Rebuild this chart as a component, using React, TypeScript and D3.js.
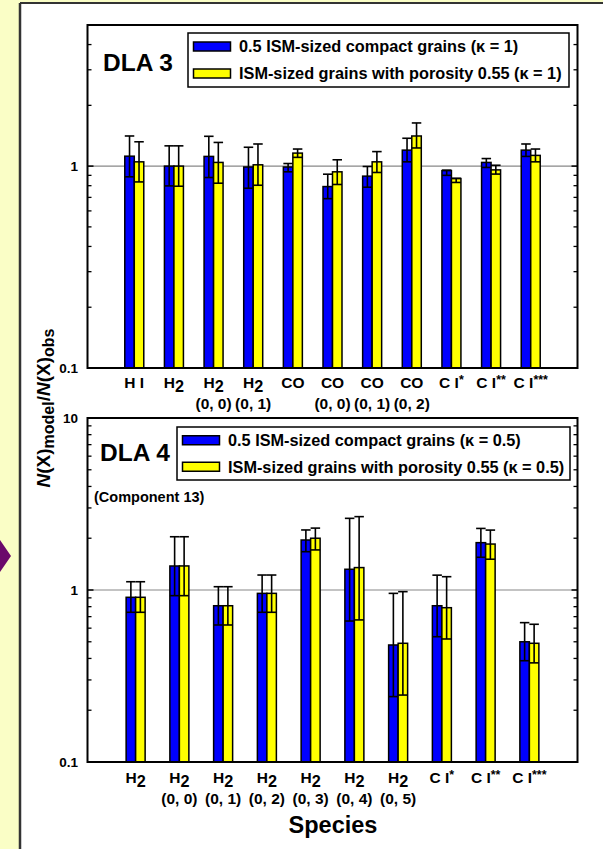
import React from "react";
import * as d3 from "d3";

// ---------- data ----------
const dla3Line1 = ["H I", "H_2", "H_2", "H_2", "CO", "CO", "CO", "CO", "C I^*", "C I^**", "C I^***"];
const dla3Line2 = ["", "", "(0, 0)", "(0, 1)", "", "(0, 0)", "(0, 1)", "(0, 2)", "", "", ""];
const dla3Compact = [1.12, 1.0, 1.117, 0.99, 0.99, 0.792, 0.892, 1.2, 0.95, 1.043, 1.2];
const dla3CompactHi = [1.41, 1.26, 1.405, 1.24, 1.03, 0.912, 0.996, 1.374, 0.955, 1.09, 1.287];
const dla3CompactLo = [0.885, 0.798, 0.878, 0.777, 0.937, 0.69, 0.786, 1.05, 0.9, 0.985, 1.117];
const dla3Porous = [1.05, 1.0, 1.043, 1.015, 1.16, 0.937, 1.05, 1.41, 0.868, 0.958, 1.13];
const dla3PorousHi = [1.32, 1.26, 1.31, 1.287, 1.215, 1.075, 1.18, 1.636, 0.87, 1.01, 1.215];
const dla3PorousLo = [0.835, 0.795, 0.823, 0.804, 1.105, 0.811, 0.93, 1.23, 0.83, 0.913, 1.05];

const dla4Line1 = ["H_2", "H_2", "H_2", "H_2", "H_2", "H_2", "H_2", "C I^*", "C I^**", "C I^***"];
const dla4Line2 = ["", "(0, 0)", "(0, 1)", "(0, 2)", "(0, 3)", "(0, 4)", "(0, 5)", "", "", ""];
const dla4Compact = [0.907, 1.379, 0.81, 0.956, 1.953, 1.32, 0.479, 0.81, 1.885, 0.5];
const dla4CompactHi = [1.117, 2.04, 1.045, 1.222, 2.234, 2.61, 0.956, 1.22, 2.28, 0.646];
const dla4CompactLo = [0.742, 0.927, 0.626, 0.742, 1.67, 0.66, 0.24, 0.535, 1.55, 0.388];
const dla4Porous = [0.907, 1.38, 0.81, 0.956, 2.0, 1.35, 0.49, 0.789, 1.85, 0.49];
const dla4PorousHi = [1.117, 2.04, 1.045, 1.222, 2.29, 2.67, 0.978, 1.195, 2.23, 0.632];
const dla4PorousLo = [0.742, 0.927, 0.626, 0.742, 1.71, 0.67, 0.245, 0.519, 1.51, 0.377];

const dla3Legend = ["0.5 ISM-sized compact grains (\u03BA = 1)", "ISM-sized grains with porosity 0.55 (\u03BA = 1)"];
const dla4Legend = ["0.5 ISM-sized compact grains (\u03BA = 0.5)", "ISM-sized grains with porosity 0.55 (\u03BA = 0.5)"];

const dla3Domain = [0.1, 5];
const dla4Domain = [0.1, 10];
const majorTickValues = [0.1, 1, 10];
const minorTickValues = [0.2, 0.3, 0.4, 0.5, 0.6, 0.7, 0.8, 0.9, 2, 3, 4, 5, 6, 7, 8, 9];

const FONT = "'Liberation Sans', Arial, Helvetica, sans-serif";
const BLUE = "#0000FF";
const YELLOW = "#FFFF00";

function RichLabel({ x, y, text, size }: { x: number; y: number; text: string; size: number }) {
  // "_" -> subscript next char; "^" -> superscript rest
  const parts: React.ReactNode[] = [];
  let i = 0;
  let k = 0;
  let buf = "";
  const flush = () => {
    if (buf) parts.push(<tspan key={k++}>{buf}</tspan>);
    buf = "";
  };
  while (i < text.length) {
    const c = text[i];
    if (c === "_") {
      flush();
      parts.push(
        <tspan key={k++} dy={4} fontSize={size * 1.05}>
          {text[i + 1]}
        </tspan>
      );
      parts.push(<tspan key={k++} dy={-4}>{""}</tspan>);
      i += 2;
    } else if (c === "^") {
      flush();
      parts.push(
        <tspan key={k++} dy={-4} fontSize={size * 0.8}>
          {text.slice(i + 1)}
        </tspan>
      );
      i = text.length;
    } else {
      buf += c;
      i++;
    }
  }
  flush();
  return (
    <text x={x} y={y} textAnchor="middle" fontSize={size} fontWeight="bold" fontFamily={FONT} fill="#000">
      {parts}
    </text>
  );
}

type PanelProps = {
  top: number;
  bottom: number;
  domain: number[];
  line1: string[];
  line2: string[];
  compact: number[];
  compactHi: number[];
  compactLo: number[];
  porous: number[];
  porousHi: number[];
  porousLo: number[];
  padding: number;
  legend: string[];
  legendBox: { x: number; y: number; w: number; h: number };
  legendFont: number;
  title: string;
  titleX: number;
  titleY: number;
  label1Y: number;
  label2Y: number;
  showTen: boolean;
  barW: number;
};

function Panel(p: PanelProps) {
  const left = 87.5;
  const right = 577.5;
  const y = d3.scaleLog().domain(p.domain).range([p.bottom, p.top]);
  const idx = p.line1.map((_, i) => i);
  const x = d3.scalePoint<number>().domain(idx).range([left, right]).padding(p.padding);
  const bw = p.barW;
  const majors = majorTickValues.filter((v) => v >= p.domain[0] && v <= p.domain[1]);
  const minors = minorTickValues.filter((v) => v > p.domain[0] && v < p.domain[1]);
  const lb = p.legendBox;
  const rowH = lb.h / 2;

  const bar = (cx: number, v: number, hi: number, lo: number, fill: string, key: string) => {
    const yt = y(v);
    return (
      <g key={key}>
        <rect x={cx} y={yt} width={bw} height={p.bottom - yt} fill={fill} stroke="#000" strokeWidth={1.5} />
        <line x1={cx + bw / 2} x2={cx + bw / 2} y1={y(lo)} y2={y(hi)} stroke="#000" strokeWidth={1.6} />
        <line x1={cx} x2={cx + bw} y1={y(hi)} y2={y(hi)} stroke="#000" strokeWidth={1.6} />
        <line x1={cx} x2={cx + bw} y1={y(lo)} y2={y(lo)} stroke="#000" strokeWidth={1.6} />
      </g>
    );
  };

  return (
    <g>
      <line x1={left} x2={right} y1={y(1)} y2={y(1)} stroke="#888" strokeWidth={1.2} />
      {idx.map((i) => {
        const c = x(i) as number;
        return (
          <g key={i}>
            {bar(c - bw, p.compact[i], p.compactHi[i], p.compactLo[i], BLUE, "c" + i)}
            {bar(c, p.porous[i], p.porousHi[i], p.porousLo[i], YELLOW, "p" + i)}
          </g>
        );
      })}
      <rect x={left} y={p.top} width={right - left} height={p.bottom - p.top} fill="none" stroke="#000" strokeWidth={2} />
      {majors.map((v) => (
        <g key={"M" + v}>
          <line x1={left} x2={left + 6} y1={y(v)} y2={y(v)} stroke="#000" strokeWidth={1.5} />
          <line x1={right} x2={right - 6} y1={y(v)} y2={y(v)} stroke="#000" strokeWidth={1.5} />
          {(v !== 10 || p.showTen) && (
            <text x={78} y={y(v)} dy="0.35em" textAnchor="end" fontSize={13.5} fontWeight="bold" fontFamily={FONT}>
              {v === 0.1 ? "0.1" : String(v)}
            </text>
          )}
        </g>
      ))}
      {minors.map((v) => (
        <g key={"m" + v}>
          <line x1={left} x2={left + 4} y1={y(v)} y2={y(v)} stroke="#000" strokeWidth={1.3} />
          <line x1={right} x2={right - 4} y1={y(v)} y2={y(v)} stroke="#000" strokeWidth={1.3} />
        </g>
      ))}
      {idx.map((i) => (
        <g key={"l" + i}>
          <RichLabel x={x(i) as number} y={p.label1Y} text={p.line1[i]} size={15.5} />
          {p.line2[i] && <RichLabel x={x(i) as number} y={p.label2Y} text={p.line2[i]} size={15.5} />}
        </g>
      ))}
      <rect x={lb.x} y={lb.y} width={lb.w} height={lb.h} fill="#fff" stroke="#000" strokeWidth={1.5} />
      {[BLUE, YELLOW].map((col, j) => (
        <g key={"lg" + j}>
          <rect x={lb.x + 5.5} y={lb.y + rowH * j + rowH / 2 - 4.5} width={37} height={9} fill={col} stroke="#000" strokeWidth={1.5} />
          <text
            x={lb.x + 51}
            y={lb.y + rowH * j + rowH / 2}
            dy="0.36em"
            fontSize={p.legendFont}
            fontWeight="bold"
            fontFamily={FONT}
          >
            {p.legend[j]}
          </text>
        </g>
      ))}
      <text x={p.titleX} y={p.titleY} dy="0.36em" fontSize={24.5} fontWeight="bold" fontFamily={FONT}>
        {p.title}
      </text>
    </g>
  );
}

export default function App() {
  return (
    <svg width={603} height={849} style={{ position: "absolute", left: 0, top: 0 }}>
      <rect x={0} y={0} width={603} height={849} fill="#FAFEC6" />
      <rect x={20} y={3} width={600} height={860} fill="#fff" />
      <line x1={20} x2={603} y1={3} y2={3} stroke="#333" strokeWidth={2} />
      <line x1={20} x2={20} y1={3} y2={849} stroke="#333" strokeWidth={2.5} />
      <polygon points="0,540 11,556 0,572" fill="#6B0A6B" />
      <Panel
        top={25}
        bottom={368}
        domain={dla3Domain}
        line1={dla3Line1}
        line2={dla3Line2}
        compact={dla3Compact}
        compactHi={dla3CompactHi}
        compactLo={dla3CompactLo}
        porous={dla3Porous}
        porousHi={dla3PorousHi}
        porousLo={dla3PorousLo}
        padding={1.18}
        legend={dla3Legend}
        legendBox={{ x: 188, y: 33, w: 381, h: 54 }}
        legendFont={16.3}
        title="DLA 3"
        titleX={103}
        titleY={62}
        label1Y={388}
        label2Y={409}
        showTen={false}
        barW={9.5}
      />
      <Panel
        top={418}
        bottom={762}
        domain={dla4Domain}
        line1={dla4Line1}
        line2={dla4Line2}
        compact={dla4Compact}
        compactHi={dla4CompactHi}
        compactLo={dla4CompactLo}
        porous={dla4Porous}
        porousHi={dla4PorousHi}
        porousLo={dla4PorousLo}
        padding={1.1}
        legend={dla4Legend}
        legendBox={{ x: 177, y: 427, w: 393, h: 53 }}
        legendFont={16.3}
        title="DLA 4"
        titleX={100}
        titleY={452}
        label1Y={782.5}
        label2Y={803.5}
        showTen={true}
        barW={9.5}
      />
      <text x={94} y={497} dy="0.36em" fontSize={14.5} fontWeight="bold" fontFamily={FONT}>
        (Component 13)
      </text>
      <text x={333} y={825} dy="0.36em" textAnchor="middle" fontSize={23.5} fontWeight="bold" fontFamily={FONT}>
        Species
      </text>
      <text
        transform="translate(50,408) rotate(-90)"
        textAnchor="middle"
        fontSize={19}
        fontWeight="bold"
        fontFamily={FONT}
      >
        <tspan fontStyle="italic">N</tspan>
        <tspan>(X)</tspan>
        <tspan dy={4} fontSize={16}>model</tspan>
        <tspan dy={-4}>/</tspan>
        <tspan fontStyle="italic">N</tspan>
        <tspan>(X)</tspan>
        <tspan dy={4} fontSize={16}>obs</tspan>
      </text>
    </svg>
  );
}
